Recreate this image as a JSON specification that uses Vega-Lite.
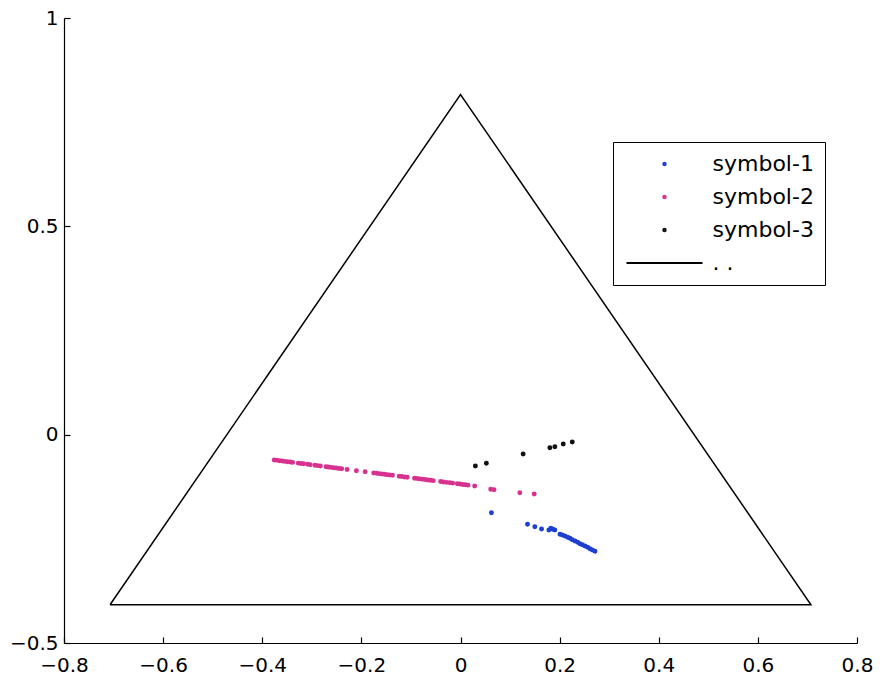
{
  "$schema": "https://vega.github.io/schema/vega-lite/v6.json",
  "width": 793,
  "height": 625,
  "autosize": "none",
  "padding": {"left": 64, "top": 18, "right": 26, "bottom": 40},
  "background": "white",
  "config": {
    "view": {"stroke": null},
    "font": "DejaVu Sans",
    "axis": {
      "grid": false,
      "domainColor": "black",
      "domainWidth": 1.2,
      "tickColor": "black",
      "tickWidth": 1.2,
      "tickSize": -6,
      "labelColor": "black",
      "labelFont": "DejaVu Sans",
      "labelFontSize": 20,
      "labelOverlap": false,
      "labelBound": false,
      "labelFlush": false,
      "title": null
    }
  },
  "datasets": {
    "pts": [
      {"x": -0.3759, "y": -0.0608, "series": "symbol-2"},
      {"x": -0.3705, "y": -0.0616, "series": "symbol-2"},
      {"x": -0.3651, "y": -0.0625, "series": "symbol-2"},
      {"x": -0.3597, "y": -0.0633, "series": "symbol-2"},
      {"x": -0.3543, "y": -0.0641, "series": "symbol-2"},
      {"x": -0.3489, "y": -0.0650, "series": "symbol-2"},
      {"x": -0.3435, "y": -0.0658, "series": "symbol-2"},
      {"x": -0.3388, "y": -0.0665, "series": "symbol-2"},
      {"x": -0.3273, "y": -0.0683, "series": "symbol-2"},
      {"x": -0.3220, "y": -0.0691, "series": "symbol-2"},
      {"x": -0.3166, "y": -0.0700, "series": "symbol-2"},
      {"x": -0.3085, "y": -0.0712, "series": "symbol-2"},
      {"x": -0.3031, "y": -0.0720, "series": "symbol-2"},
      {"x": -0.2936, "y": -0.0735, "series": "symbol-2"},
      {"x": -0.2882, "y": -0.0743, "series": "symbol-2"},
      {"x": -0.2828, "y": -0.0752, "series": "symbol-2"},
      {"x": -0.2714, "y": -0.0769, "series": "symbol-2"},
      {"x": -0.2667, "y": -0.0776, "series": "symbol-2"},
      {"x": -0.2613, "y": -0.0785, "series": "symbol-2"},
      {"x": -0.2559, "y": -0.0793, "series": "symbol-2"},
      {"x": -0.2505, "y": -0.0801, "series": "symbol-2"},
      {"x": -0.2451, "y": -0.0810, "series": "symbol-2"},
      {"x": -0.2397, "y": -0.0818, "series": "symbol-2"},
      {"x": -0.2289, "y": -0.0835, "series": "symbol-2"},
      {"x": -0.2100, "y": -0.0864, "series": "symbol-2"},
      {"x": -0.1925, "y": -0.0891, "series": "symbol-2"},
      {"x": -0.1750, "y": -0.0918, "series": "symbol-2"},
      {"x": -0.1696, "y": -0.0926, "series": "symbol-2"},
      {"x": -0.1642, "y": -0.0935, "series": "symbol-2"},
      {"x": -0.1588, "y": -0.0943, "series": "symbol-2"},
      {"x": -0.1534, "y": -0.0951, "series": "symbol-2"},
      {"x": -0.1480, "y": -0.0960, "series": "symbol-2"},
      {"x": -0.1426, "y": -0.0968, "series": "symbol-2"},
      {"x": -0.1372, "y": -0.0976, "series": "symbol-2"},
      {"x": -0.1237, "y": -0.0997, "series": "symbol-2"},
      {"x": -0.1183, "y": -0.1005, "series": "symbol-2"},
      {"x": -0.1129, "y": -0.1014, "series": "symbol-2"},
      {"x": -0.1075, "y": -0.1022, "series": "symbol-2"},
      {"x": -0.0927, "y": -0.1045, "series": "symbol-2"},
      {"x": -0.0873, "y": -0.1053, "series": "symbol-2"},
      {"x": -0.0819, "y": -0.1061, "series": "symbol-2"},
      {"x": -0.0765, "y": -0.1070, "series": "symbol-2"},
      {"x": -0.0711, "y": -0.1078, "series": "symbol-2"},
      {"x": -0.0657, "y": -0.1086, "series": "symbol-2"},
      {"x": -0.0604, "y": -0.1095, "series": "symbol-2"},
      {"x": -0.0550, "y": -0.1103, "series": "symbol-2"},
      {"x": -0.0401, "y": -0.1126, "series": "symbol-2"},
      {"x": -0.0347, "y": -0.1134, "series": "symbol-2"},
      {"x": -0.0280, "y": -0.1145, "series": "symbol-2"},
      {"x": -0.0213, "y": -0.1155, "series": "symbol-2"},
      {"x": -0.0159, "y": -0.1163, "series": "symbol-2"},
      {"x": -0.0064, "y": -0.1178, "series": "symbol-2"},
      {"x": -0.0010, "y": -0.1186, "series": "symbol-2"},
      {"x": 0.0044, "y": -0.1195, "series": "symbol-2"},
      {"x": 0.0098, "y": -0.1203, "series": "symbol-2"},
      {"x": 0.0152, "y": -0.1211, "series": "symbol-2"},
      {"x": 0.0286, "y": -0.1232, "series": "symbol-2"},
      {"x": 0.0610, "y": -0.1312, "series": "symbol-2"},
      {"x": 0.0677, "y": -0.1320, "series": "symbol-2"},
      {"x": 0.1197, "y": -0.1392, "series": "symbol-2"},
      {"x": 0.1487, "y": -0.1424, "series": "symbol-2"},
      {"x": 0.0624, "y": -0.1872, "series": "symbol-1"},
      {"x": 0.1352, "y": -0.2152, "series": "symbol-1"},
      {"x": 0.1500, "y": -0.2208, "series": "symbol-1"},
      {"x": 0.1635, "y": -0.2264, "series": "symbol-1"},
      {"x": 0.1783, "y": -0.2288, "series": "symbol-1"},
      {"x": 0.1824, "y": -0.2248, "series": "symbol-1"},
      {"x": 0.1864, "y": -0.2272, "series": "symbol-1"},
      {"x": 0.1904, "y": -0.2288, "series": "symbol-1"},
      {"x": 0.2006, "y": -0.2392, "series": "symbol-1"},
      {"x": 0.2053, "y": -0.2408, "series": "symbol-1"},
      {"x": 0.2107, "y": -0.2432, "series": "symbol-1"},
      {"x": 0.2161, "y": -0.2464, "series": "symbol-1"},
      {"x": 0.2208, "y": -0.2488, "series": "symbol-1"},
      {"x": 0.2255, "y": -0.2520, "series": "symbol-1"},
      {"x": 0.2309, "y": -0.2552, "series": "symbol-1"},
      {"x": 0.2363, "y": -0.2584, "series": "symbol-1"},
      {"x": 0.2410, "y": -0.2616, "series": "symbol-1"},
      {"x": 0.2457, "y": -0.2640, "series": "symbol-1"},
      {"x": 0.2511, "y": -0.2672, "series": "symbol-1"},
      {"x": 0.2565, "y": -0.2704, "series": "symbol-1"},
      {"x": 0.2612, "y": -0.2736, "series": "symbol-1"},
      {"x": 0.2660, "y": -0.2767, "series": "symbol-1"},
      {"x": 0.2714, "y": -0.2800, "series": "symbol-1"},
      {"x": 0.0300, "y": -0.0752, "series": "symbol-3"},
      {"x": 0.0522, "y": -0.0688, "series": "symbol-3"},
      {"x": 0.1264, "y": -0.0464, "series": "symbol-3"},
      {"x": 0.1803, "y": -0.0312, "series": "symbol-3"},
      {"x": 0.1904, "y": -0.0288, "series": "symbol-3"},
      {"x": 0.2073, "y": -0.0224, "series": "symbol-3"},
      {"x": 0.2255, "y": -0.0176, "series": "symbol-3"}
    ],
    "tri": [
      {"x": -0.7071, "y": -0.4082, "order": 1},
      {"x": 0.7071, "y": -0.4082, "order": 2},
      {"x": 0.0, "y": 0.8165, "order": 3},
      {"x": -0.7071, "y": -0.4082, "order": 4}
    ]
  },
  "layer": [
    {
      "data": {"name": "tri"},
      "mark": {"type": "line", "color": "black", "strokeWidth": 1.5},
      "encoding": {
        "x": {"field": "x", "type": "quantitative", "scale": {"domain": [-0.8, 0.8], "nice": false, "zero": false},
              "axis": {"values": [-0.8, -0.6, -0.4, -0.2, 0, 0.2, 0.4, 0.6, 0.8], "format": ".1~f", "labelPadding": 18}},
        "y": {"field": "y", "type": "quantitative", "scale": {"domain": [-0.5, 1], "nice": false, "zero": false},
              "axis": {"values": [-0.5, 0, 0.5, 1], "format": ".1~f", "labelPadding": 12}},
        "order": {"field": "order", "type": "quantitative"}
      }
    },
    {
      "data": {"name": "pts"},
      "mark": {"type": "point", "filled": false, "strokeWidth": 2.5, "opacity": 1},
      "encoding": {
        "x": {"field": "x", "type": "quantitative"},
        "y": {"field": "y", "type": "quantitative"},
        "color": {
          "field": "series",
          "type": "nominal",
          "scale": {"domain": ["symbol-1", "symbol-2", "symbol-3", ". ."], "range": ["#1f3fd0", "#d8318f", "#111111", "#000000"]},
          "legend": {
            "title": null,
            "orient": "none",
            "legendX": 549,
            "legendY": 124,
            "padding": 11,
            "strokeColor": "black",
            "fillColor": "white",
            "cornerRadius": 0,
            "symbolStrokeWidth": 2,
            "symbolOffset": 29.5,
            "labelFont": "DejaVu Sans",
            "labelFontSize": 22,
            "labelColor": "black",
            "labelOffset": 37,
            "rowPadding": 11
          }
        },
        "shape": {
          "field": "series",
          "type": "nominal",
          "scale": {"domain": ["symbol-1", "symbol-2", "symbol-3", ". ."], "range": ["circle", "circle", "circle", "M-4,0H4"]},
          "legend": {"title": null}
        },
        "size": {
          "field": "series",
          "type": "nominal",
          "scale": {"type": "ordinal", "domain": ["symbol-1", "symbol-2", "symbol-3", ". ."], "range": [6, 6, 6, 361]},
          "legend": {"title": null}
        }
      }
    }
  ]
}
